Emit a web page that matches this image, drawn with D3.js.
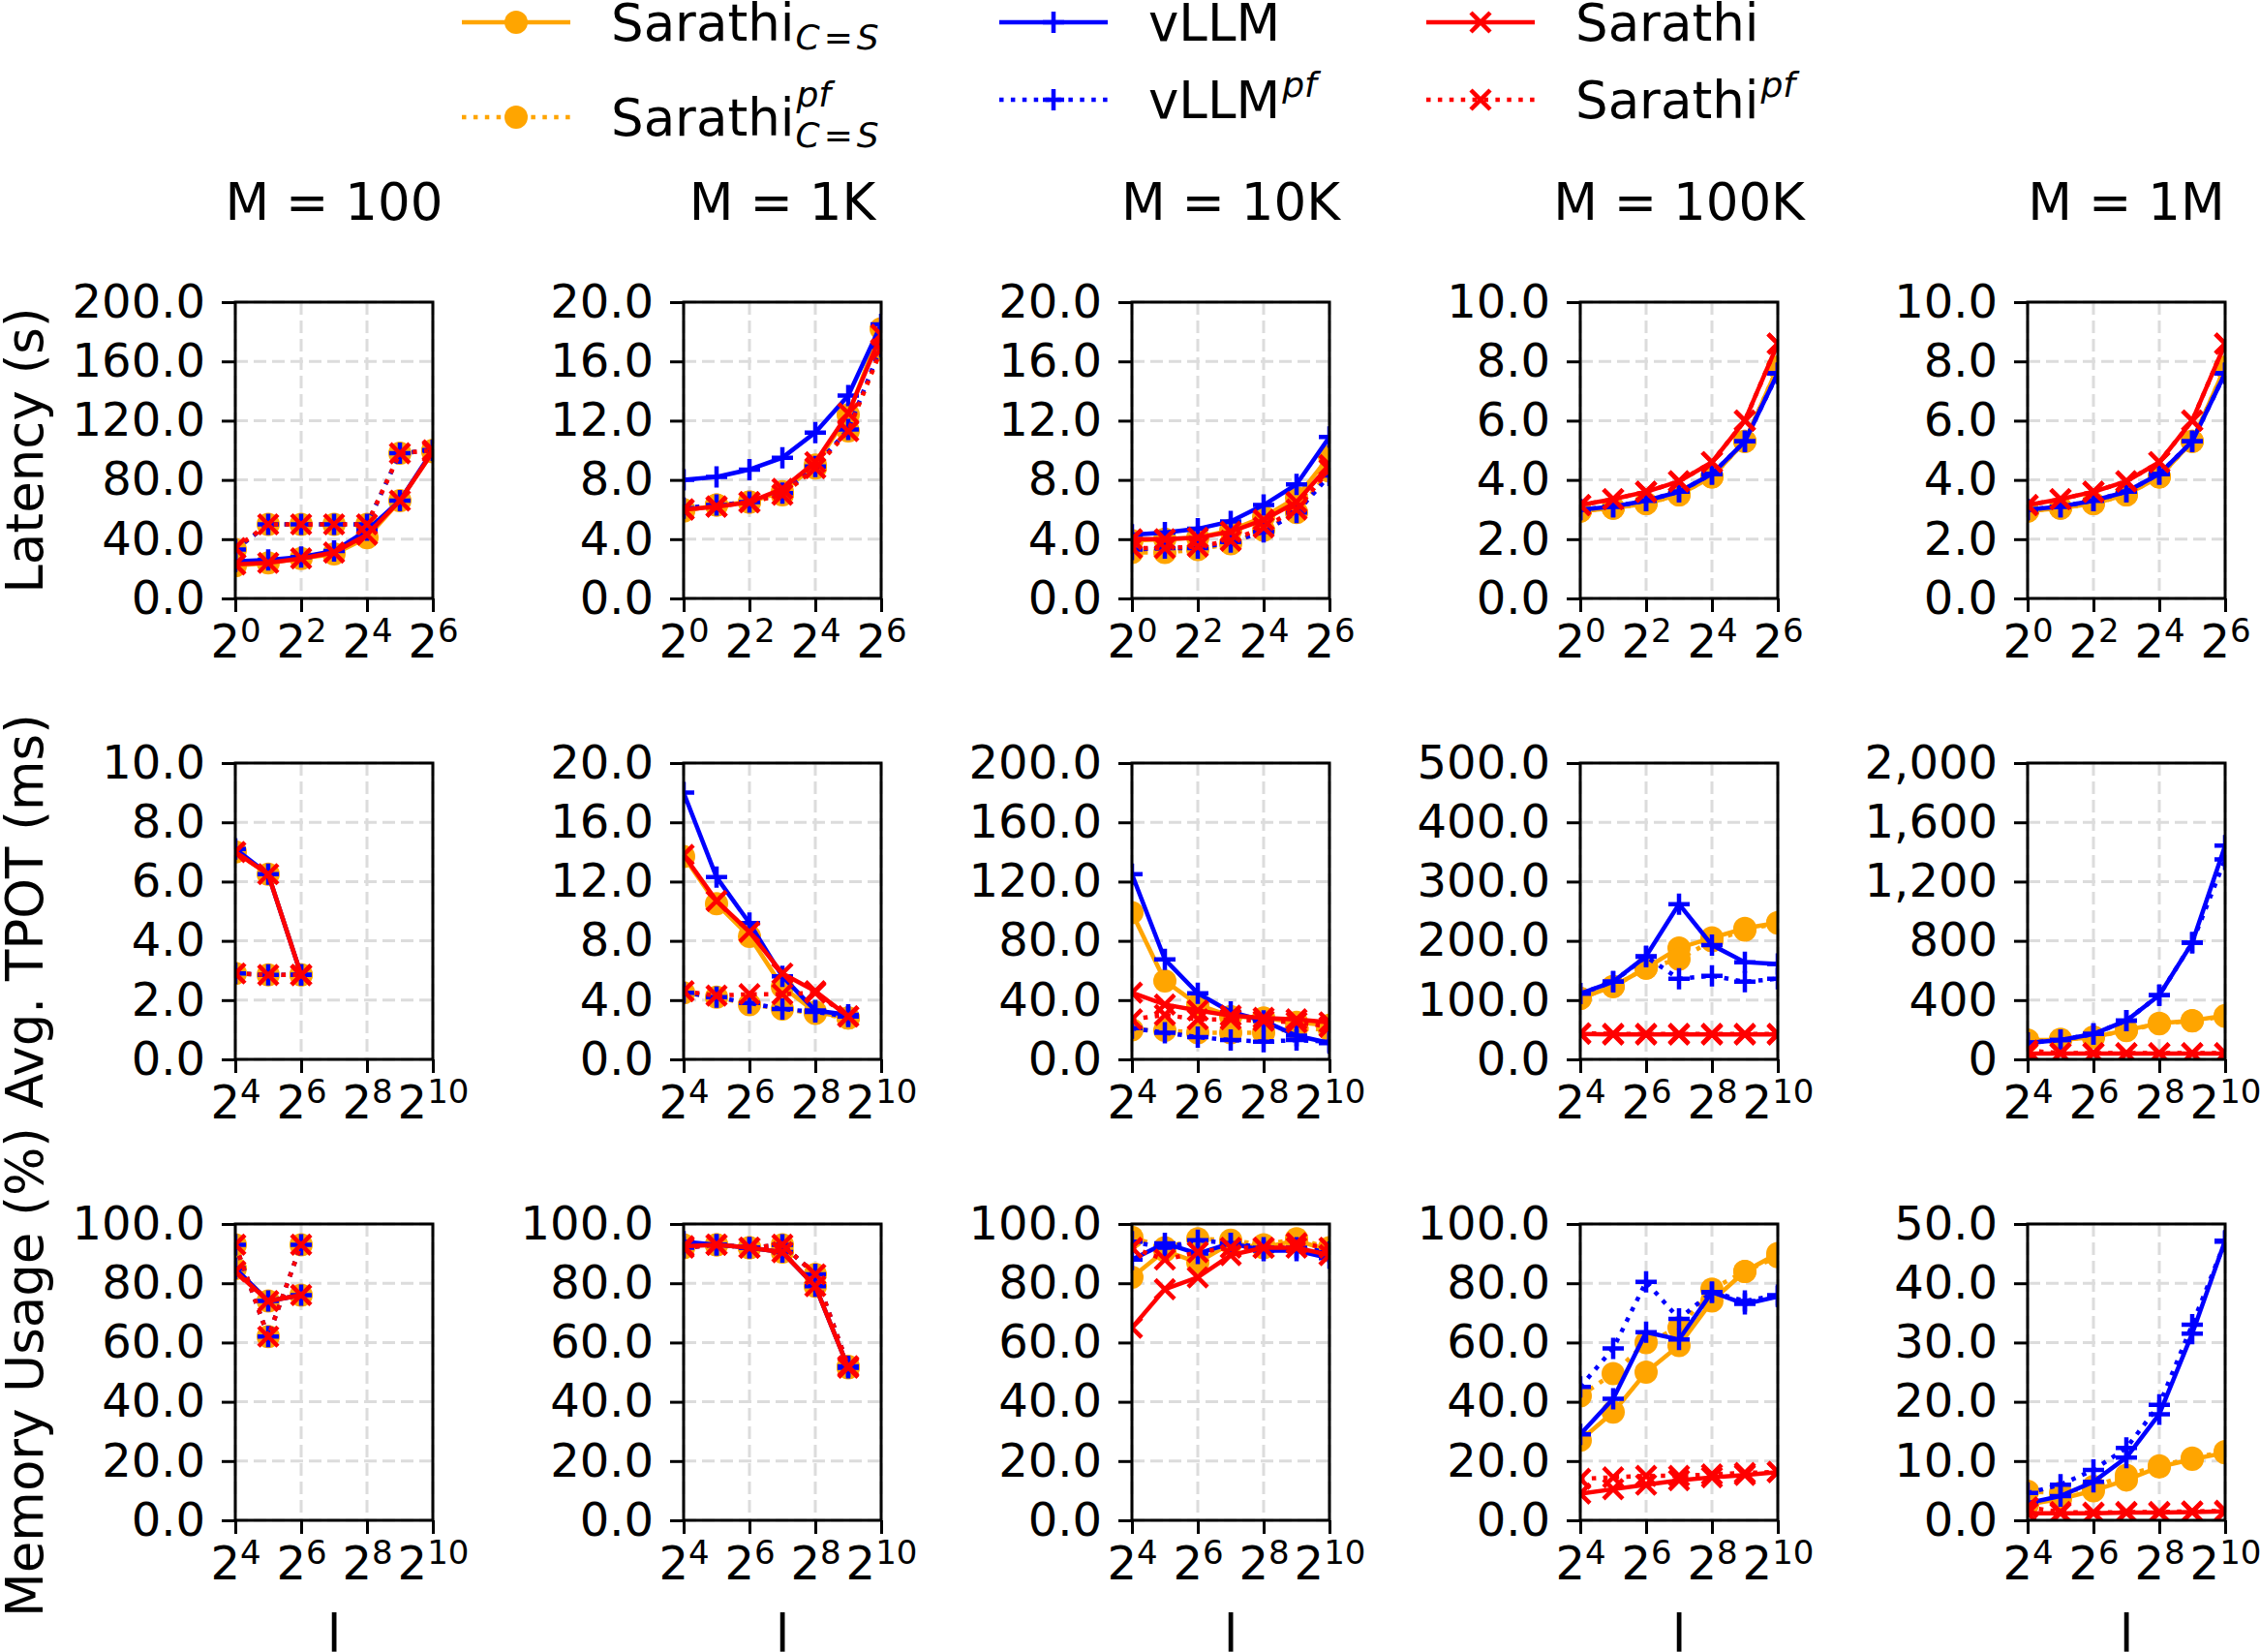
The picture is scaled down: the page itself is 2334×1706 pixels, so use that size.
<!DOCTYPE html>
<html>
<head>
<meta charset="utf-8">
<script src="https://cdn.jsdelivr.net/npm/d3@7"></script>
<style>
  body { margin: 0; background: #fff; }
  svg { display: block; }
</style>
</head>
<body>
<div id="chart"></div>
<script>
// ---- data ----
var mLabels = ["M = 100", "M = 1K", "M = 10K", "M = 100K", "M = 1M"];
var rowLabels = ["Latency (s)", "Avg. TPOT (ms)", "Memory Usage (%)"];

var latX = [1, 2, 4, 8, 16, 32, 64];
var batchX = [16, 32, 64, 128, 256, 512, 1024];
var latXTicks = [1, 4, 16, 64];
var batchXTicks = [16, 64, 256, 1024];

var latYTicks = [[0, 40, 80, 120, 160, 200], [0, 4, 8, 12, 16, 20], [0, 4, 8, 12, 16, 20], [0, 2, 4, 6, 8, 10], [0, 2, 4, 6, 8, 10]];
var tpotYTicks = [[0, 2, 4, 6, 8, 10], [0, 4, 8, 12, 16, 20], [0, 40, 80, 120, 160, 200], [0, 100, 200, 300, 400, 500], [0, 400, 800, 1200, 1600, 2000]];
var memYTicks = [[0, 20, 40, 60, 80, 100], [0, 20, 40, 60, 80, 100], [0, 20, 40, 60, 80, 100], [0, 20, 40, 60, 80, 100], [0, 10, 20, 30, 40, 50]];

// latency, one list per M
var latSarathiCS = [[22, 24, 27, 30, 41, 66, 99], [5.9, 6.3, 6.5, 7.2, 9.0, 12.4, 18.2], [3.9, 4.0, 4.1, 4.6, 5.5, 6.8, 9.6], [2.95, 3.05, 3.2, 3.5, 4.1, 5.3, 7.8], [2.95, 3.05, 3.2, 3.5, 4.1, 5.3, 7.8]];
var latSarathiCSPf = [[33, 50, 50, 50, 50, 98, 100], [6.0, 6.3, 6.5, 7.0, 8.8, 11.3, 16.8], [3.1, 3.1, 3.3, 3.7, 4.6, 5.8, 8.6], [2.95, 3.05, 3.2, 3.5, 4.1, 5.3, 7.8], [2.95, 3.05, 3.2, 3.5, 4.1, 5.3, 7.8]];
var latVllm = [[25, 26, 28, 32, 46, 66, 100], [8.0, 8.2, 8.7, 9.5, 11.2, 13.7, 18.5], [4.3, 4.45, 4.7, 5.2, 6.3, 7.7, 10.9], [3.0, 3.1, 3.3, 3.6, 4.2, 5.3, 7.6], [3.0, 3.1, 3.3, 3.6, 4.2, 5.3, 7.6]];
var latVllmPf = [[33, 50, 50, 50, 50, 98, 100], [6.1, 6.3, 6.5, 7.1, 8.9, 11.4, 17.0], [3.3, 3.4, 3.4, 3.8, 4.5, 5.8, 8.3], [3.0, 3.1, 3.3, 3.6, 4.2, 5.3, 7.6], [3.0, 3.1, 3.3, 3.6, 4.2, 5.3, 7.6]];
var latSarathi = [[23, 24, 27, 31, 43, 66, 99], [6.0, 6.2, 6.5, 7.4, 9.2, 12.5, 17.8], [4.0, 4.0, 4.1, 4.5, 5.3, 6.5, 9.0], [3.15, 3.35, 3.6, 3.95, 4.6, 6.0, 8.6], [3.15, 3.35, 3.6, 3.95, 4.6, 6.0, 8.6]];
var latSarathiPf = [[34, 50, 50, 50, 50, 98, 100], [6.0, 6.2, 6.5, 7.0, 8.8, 11.3, 16.8], [3.4, 3.4, 3.5, 3.9, 4.8, 6.0, 8.7], [3.15, 3.35, 3.6, 3.95, 4.6, 6.0, 8.6], [3.15, 3.35, 3.6, 3.95, 4.6, 6.0, 8.6]];

// avg. TPOT
var tpotSarathiCS = [[7.0, 6.25, 2.85], [13.7, 10.5, 8.3, 4.9, 3.2, 2.8], [99, 53, 37, 29, 28, 25, 23], [103, 123, 154, 188, 205, 221, 231], [130, 131, 150, 197, 243, 262, 295]];
var tpotSarathiCSPf = [[2.9, 2.85, 2.85], [4.5, 4.2, 3.7, 3.4, 3.1, 2.8], [20, 19.6, 18, 18, 18, 21, 20], [103, 123, 154, 169, 200, 218, 230], [125, 135, 150, 195, 240, 260, 290]];
var tpotVllm = [[7.1, 6.25, 2.85], [18.0, 12.3, 9.2, 5.6, 3.3, 3.0], [125, 67.5, 44.6, 32, 26, 16, 11], [111, 131, 174, 262, 193, 164, 161], [111, 131, 171, 262, 433, 787, 1443]];
var tpotVllmPf = [[2.9, 2.85, 2.85], [4.5, 4.2, 3.8, 3.4, 3.2, 2.9], [21, 18, 15, 13, 12, 13, 12], [111, 131, 173, 136, 141, 131, 136], [111, 131, 171, 262, 433, 787, 1350]];
var tpotSarathi = [[7.0, 6.25, 2.85], [13.8, 10.7, 8.6, 5.8, 4.6, 2.9], [45, 37, 33, 29.5, 28, 27, 25], [43, 42, 42, 42, 42, 42, 42], [40, 40, 40, 40, 40, 40, 40]];
var tpotSarathiPf = [[2.9, 2.85, 2.85], [4.6, 4.3, 4.4, 4.4, 4.5, 2.9], [27, 30, 27, 27, 26, 25, 22], [44, 43, 43, 43, 43, 43, 43], [60, 42, 42, 42, 42, 42, 42]];

// memory usage
var memSarathiCS = [[85, 74, 76], [93, 93, 92, 90.5, 79, 51.5], [82, 91, 87, 93.5, 92, 94.5, 91], [27, 36.5, 50, 59, 74, 84, 90], [2.7, 3.6, 5.0, 6.8, 9.0, 10.3, 11.4]];
var memSarathiCSPf = [[93, 62, 93], [92, 93, 92, 93, 83, 52], [95.5, 92, 95, 94.5, 93, 95, 92], [42, 49.5, 60, 65, 78, 84, 89], [4.9, 4.6, 5.7, 7.6, 9.2, 10.5, 11.6]];
var memVllm = [[85, 74, 76], [94, 93, 92, 90.5, 79, 51.5], [88, 93.5, 90, 93.5, 91, 91, 88.5], [29, 41, 63.5, 61, 77, 73, 75.5], [2.9, 4.1, 6.5, 10.6, 17.9, 31.5, 47.2]];
var memVllmPf = [[93, 62, 93], [92, 93, 92, 93, 83, 52], [94, 92, 94.5, 93.5, 92, 92, 90.5], [45, 58, 80.5, 68, 77, 74, 76], [4.6, 6.0, 8.5, 12.2, 19.5, 33, 47]];
var memSarathi = [[84, 74, 76], [92.5, 93, 92, 90.5, 79, 51.5], [65, 78, 82, 89.5, 92, 92, 89.5], [9, 10.5, 12, 13.5, 14.5, 15.3, 16.3], [1.2, 1.2, 1.2, 1.3, 1.3, 1.4, 1.5]];
var memSarathiPf = [[93, 62, 93], [92, 93, 92, 93, 83, 52], [92, 88, 90.5, 92, 92, 93.5, 92], [14, 14.5, 15, 15, 15.5, 16, 16.3], [2.2, 1.4, 1.3, 1.4, 1.4, 1.5, 1.6]];

// ---- layout ----
var W = 2334, H = 1706;
var panelW = 204, panelH = 306;
var colLeft = [243, 706, 1169, 1632, 2094];
var rowTop = [312, 788, 1264];
var font = "'DejaVu Sans', sans-serif";
var tickFont = 48, labelFont = 53;

var styles = [
  { color: "orange", dotted: false, marker: "circle" },
  { color: "orange", dotted: true, marker: "circle" },
  { color: "blue", dotted: false, marker: "plus" },
  { color: "blue", dotted: true, marker: "plus" },
  { color: "red", dotted: false, marker: "x" },
  { color: "red", dotted: true, marker: "x" }
];

var rows = [
  { x: latX, xTicks: latXTicks, yTicks: latYTicks, series: [latSarathiCS, latSarathiCSPf, latVllm, latVllmPf, latSarathi, latSarathiPf] },
  { x: batchX, xTicks: batchXTicks, yTicks: tpotYTicks, series: [tpotSarathiCS, tpotSarathiCSPf, tpotVllm, tpotVllmPf, tpotSarathi, tpotSarathiPf] },
  { x: batchX, xTicks: batchXTicks, yTicks: memYTicks, series: [memSarathiCS, memSarathiCSPf, memVllm, memVllmPf, memSarathi, memSarathiPf] }
];

var svg = d3.select("#chart").append("svg")
  .attr("width", W).attr("height", H)
  .attr("font-family", font);

function drawMarker(g, kind, color) {
  if (kind === "circle") {
    g.append("circle").attr("r", 12).attr("fill", color);
  } else if (kind === "plus") {
    g.append("path").attr("d", "M-11,0H11M0,-11V11")
      .attr("stroke", color).attr("stroke-width", 4.5).attr("fill", "none");
  } else {
    g.append("path").attr("d", "M-10,-10L10,10M-10,10L10,-10")
      .attr("stroke", color).attr("stroke-width", 4.5).attr("fill", "none");
  }
}

rows.forEach(function(row, r) {
  mLabels.forEach(function(m, c) {
    var ticks = row.yTicks[c];
    var xScale = d3.scaleLog().base(2)
      .domain([row.xTicks[0], row.xTicks[row.xTicks.length - 1]])
      .range([0, panelW]);
    var yScale = d3.scaleLinear().domain([0, ticks[ticks.length - 1]]).range([panelH, 0]);

    var g = svg.append("g").attr("transform", "translate(" + colLeft[c] + "," + rowTop[r] + ")");
    var clipId = "clip-" + r + "-" + c;
    g.append("clipPath").attr("id", clipId)
      .append("rect").attr("width", panelW).attr("height", panelH);

    // grid
    g.append("g").selectAll("line.h").data(ticks).enter().append("line")
      .attr("x1", 0).attr("x2", panelW)
      .attr("y1", function(d) { return yScale(d); })
      .attr("y2", function(d) { return yScale(d); })
      .attr("stroke", "#dcdcdc").attr("stroke-width", 3).attr("stroke-dasharray", "13,6");
    g.append("g").selectAll("line.v").data(row.xTicks).enter().append("line")
      .attr("y1", 0).attr("y2", panelH)
      .attr("x1", function(d) { return xScale(d); })
      .attr("x2", function(d) { return xScale(d); })
      .attr("stroke", "#dcdcdc").attr("stroke-width", 3).attr("stroke-dasharray", "13,6");

    // series
    var plot = g.append("g").attr("clip-path", "url(#" + clipId + ")");
    row.series.forEach(function(s, k) {
      var vals = s[c];
      var pts = vals.map(function(v, i) { return [row.x[i], v]; });
      var st = styles[k];
      var line = d3.line()
        .x(function(d) { return xScale(d[0]); })
        .y(function(d) { return yScale(d[1]); });
      plot.append("path").datum(pts)
        .attr("d", line)
        .attr("fill", "none")
        .attr("stroke", st.color)
        .attr("stroke-width", 4.5)
        .attr("stroke-dasharray", st.dotted ? "4.5,7.4" : null);
      pts.forEach(function(p) {
        var mg = plot.append("g")
          .attr("transform", "translate(" + xScale(p[0]) + "," + yScale(p[1]) + ")");
        drawMarker(mg, st.marker, st.color);
      });
    });

    // axes
    var fmt = ticks[ticks.length - 1] >= 1000 ? d3.format(",") : d3.format(".1f");
    var yAxis = g.append("g").call(d3.axisLeft(yScale).tickValues(ticks)
      .tickSize(14).tickPadding(17).tickFormat(fmt));
    yAxis.select(".domain").remove();
    yAxis.selectAll(".tick line").attr("stroke", "#000").attr("stroke-width", 3);
    yAxis.selectAll(".tick text").attr("font-size", tickFont).attr("font-family", font).attr("fill", "#000");

    var xAxis = g.append("g").attr("transform", "translate(0," + panelH + ")")
      .call(d3.axisBottom(xScale).tickValues(row.xTicks).tickSize(14));
    xAxis.select(".domain").remove();
    xAxis.selectAll(".tick line").attr("stroke", "#000").attr("stroke-width", 3);
    xAxis.selectAll(".tick text").each(function(d) {
      var t = d3.select(this);
      t.text(null).attr("y", 61).attr("dy", null)
        .attr("font-size", tickFont).attr("font-family", font).attr("fill", "#000");
      t.append("tspan").text("2");
      t.append("tspan").attr("font-size", 34).attr("dy", -16).text(Math.round(Math.log2(d)));
    });

    // frame
    g.append("rect").attr("width", panelW).attr("height", panelH)
      .attr("fill", "none").attr("stroke", "#000").attr("stroke-width", 3);

    if (r === 0) {
      svg.append("text").attr("x", colLeft[c] + panelW / 2).attr("y", 227)
        .attr("text-anchor", "middle").attr("font-size", labelFont).text(m);
    }
    if (r === 2) {
      svg.append("text").attr("x", colLeft[c] + panelW / 2).attr("y", 1706)
        .attr("text-anchor", "middle").attr("font-size", labelFont).text("l");
    }
  });

  svg.append("text")
    .attr("transform", "translate(44," + (rowTop[r] + panelH / 2) + ") rotate(-90)")
    .attr("text-anchor", "middle").attr("font-size", labelFont)
    .text(rowLabels[r]);
});

// ---- legend ----
var legendItems = [
  { style: 0, x0: 477, y: 23, name: "Sarathi", sub: true, sup: false },
  { style: 1, x0: 477, y: 121, name: "Sarathi", sub: true, sup: true },
  { style: 2, x0: 1032, y: 23, name: "vLLM", sub: false, sup: false },
  { style: 3, x0: 1032, y: 103, name: "vLLM", sub: false, sup: true },
  { style: 4, x0: 1473, y: 23, name: "Sarathi", sub: false, sup: false },
  { style: 5, x0: 1473, y: 103, name: "Sarathi", sub: false, sup: true }
];

legendItems.forEach(function(it) {
  var st = styles[it.style];
  var lg = svg.append("g");
  lg.append("line").attr("x1", it.x0).attr("x2", it.x0 + 112)
    .attr("y1", it.y).attr("y2", it.y)
    .attr("stroke", st.color).attr("stroke-width", 4.5)
    .attr("stroke-dasharray", st.dotted ? "4.5,7.4" : null);
  drawMarker(lg.append("g").attr("transform", "translate(" + (it.x0 + 56) + "," + it.y + ")"), st.marker, st.color);

  var tx = it.x0 + 154, base = it.y + 19;
  var main = lg.append("text").attr("x", tx).attr("y", base)
    .attr("font-size", labelFont).text(it.name);
  var wMain = main.node().getComputedTextLength();
  if (it.sup) {
    lg.append("text").attr("x", tx + wMain + 2).attr("y", base - (it.sub ? 30 : 22))
      .attr("font-size", 36).attr("font-style", "italic").text("pf");
  }
  if (it.sub) {
    var sb = lg.append("text").attr("x", tx + wMain + 1).attr("y", base + (it.sup ? 12 : 9))
      .attr("font-size", 36);
    sb.append("tspan").attr("font-style", "italic").text("C");
    sb.append("tspan").attr("dx", 4).text("=");
    sb.append("tspan").attr("dx", 4).attr("font-style", "italic").text("S");
  }
});
</script>
</body>
</html>
